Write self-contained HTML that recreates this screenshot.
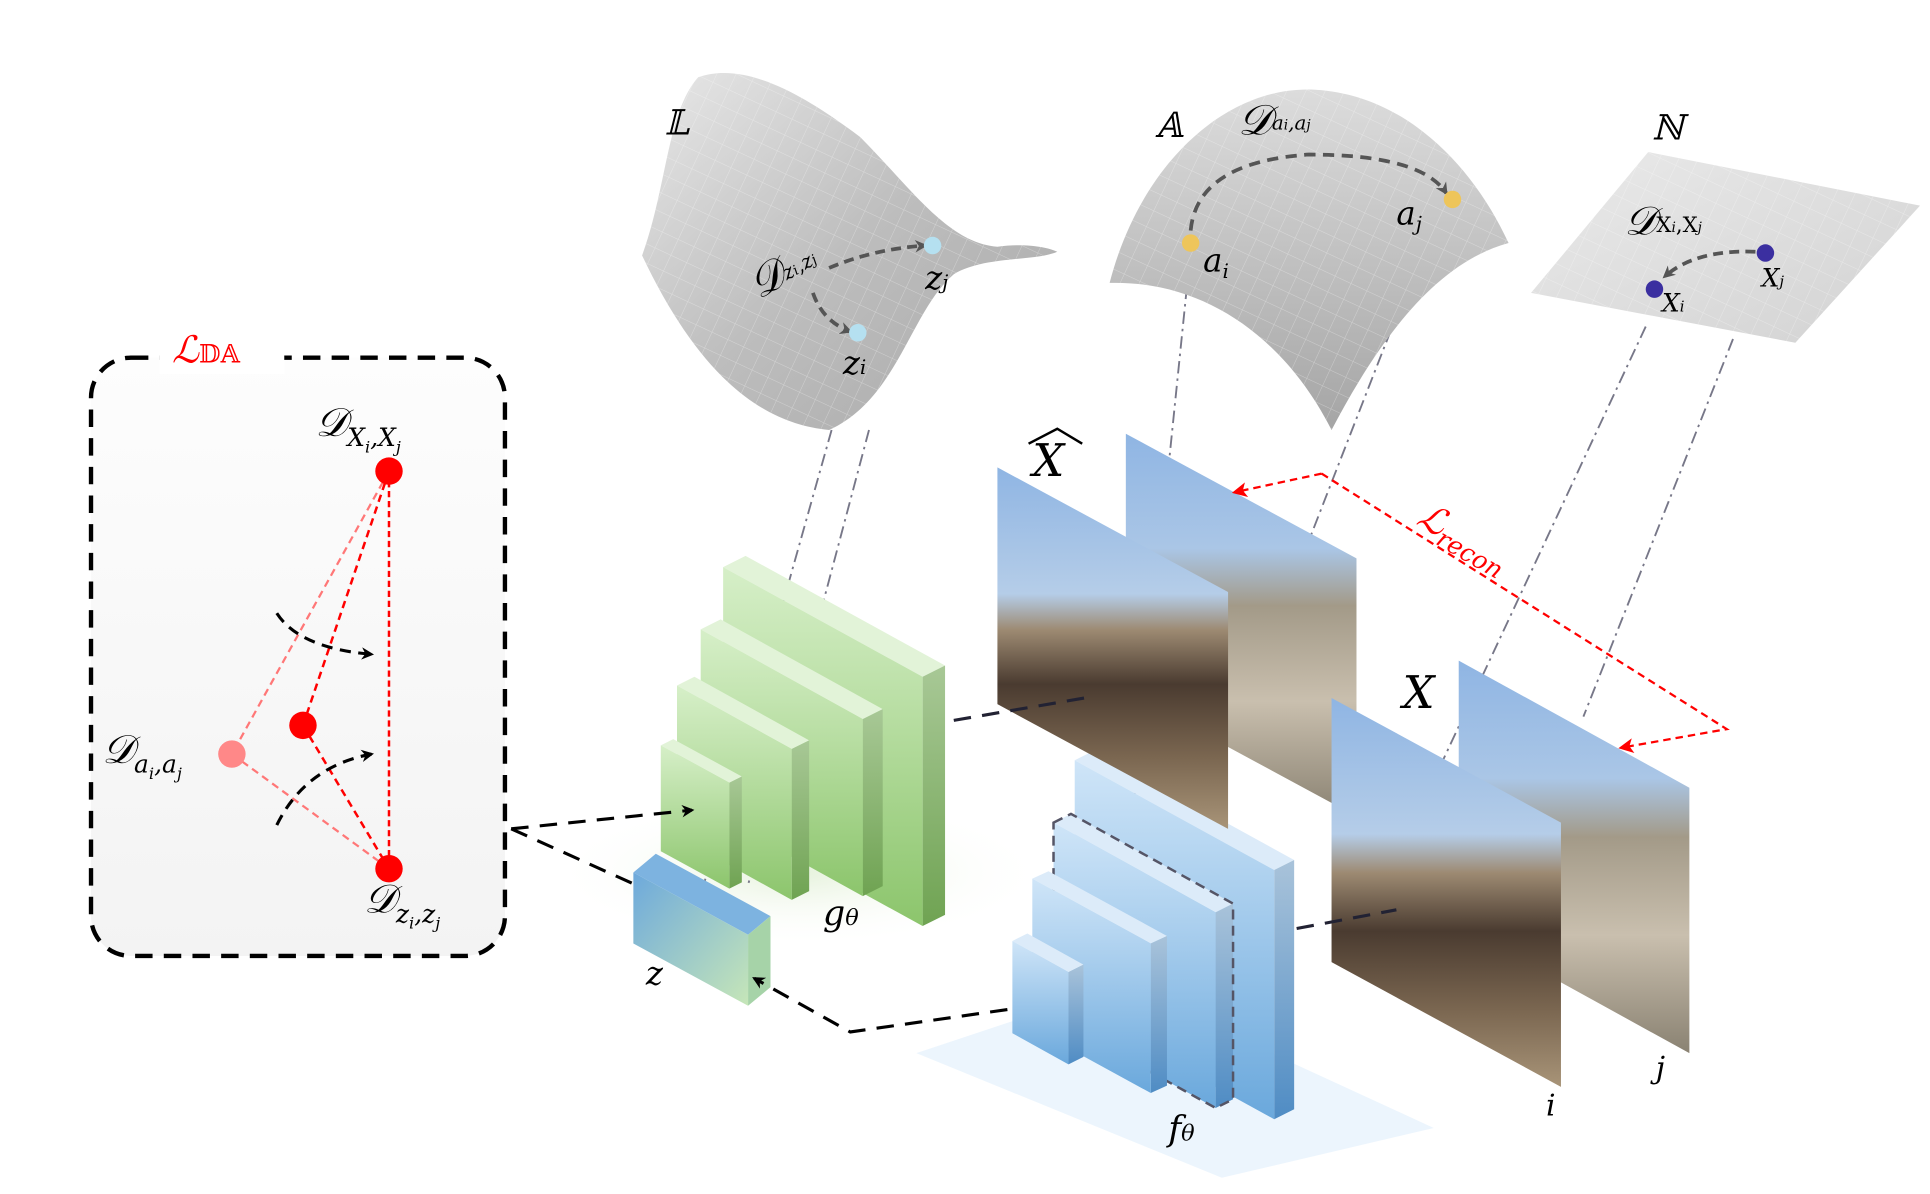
<!DOCTYPE html>
<html><head><meta charset="utf-8">
<style>
html,body{margin:0;padding:0;background:#fff;width:1930px;height:1194px;overflow:hidden}
svg{display:block}
text{font-family:"DejaVu Serif","Liberation Serif",serif;font-style:italic}
</style></head>
<body>
<svg width="1930" height="1194" viewBox="0 0 1548 958" preserveAspectRatio="none">
<defs>
<linearGradient id="box" x1="0" y1="0" x2="0" y2="1"><stop offset="0" stop-color="#fdfdfd"/><stop offset="1" stop-color="#f3f3f3"/></linearGradient>
<linearGradient id="surf" x1="0" y1="0" x2="1" y2="1"><stop offset="0" stop-color="#e8e8e8"/><stop offset="0.5" stop-color="#bdbdbd"/><stop offset="1" stop-color="#a9a9a9"/></linearGradient>
<linearGradient id="dome" x1="0" y1="0" x2="0" y2="1"><stop offset="0" stop-color="#dcdcdc"/><stop offset="1" stop-color="#a5a5a5"/></linearGradient>
<linearGradient id="plane" x1="0" y1="0" x2="1" y2="1"><stop offset="0" stop-color="#eaeaea"/><stop offset="1" stop-color="#d2d2d2"/></linearGradient>
<linearGradient id="gf" x1="0" y1="0" x2="0" y2="1"><stop offset="0" stop-color="#d6efc8"/><stop offset="1" stop-color="#8cc56c"/></linearGradient>
<linearGradient id="gs" x1="0" y1="0" x2="0" y2="1"><stop offset="0" stop-color="#a8c896"/><stop offset="1" stop-color="#6fa352"/></linearGradient>
<linearGradient id="bf" x1="0" y1="0" x2="0" y2="1"><stop offset="0" stop-color="#cfe5f8"/><stop offset="1" stop-color="#6aa8dc"/></linearGradient>
<linearGradient id="bs" x1="0" y1="0" x2="0" y2="1"><stop offset="0" stop-color="#a9c3da"/><stop offset="1" stop-color="#4f8cc4"/></linearGradient>
<linearGradient id="zf" x1="0" y1="0" x2="1" y2="1"><stop offset="0" stop-color="#6da9dc"/><stop offset="1" stop-color="#c6e6b8"/></linearGradient>
<linearGradient id="img" x1="0" y1="0" x2="0" y2="1"><stop offset="0" stop-color="#8fb5e3"/><stop offset="0.35" stop-color="#b5cde8"/><stop offset="0.45" stop-color="#9d8a72"/><stop offset="0.6" stop-color="#4a3b30"/><stop offset="0.8" stop-color="#7a6650"/><stop offset="1" stop-color="#a89478"/></linearGradient>
<linearGradient id="img2" x1="0" y1="0" x2="0" y2="1"><stop offset="0" stop-color="#8fb5e3"/><stop offset="0.3" stop-color="#aac6e6"/><stop offset="0.45" stop-color="#a39a88"/><stop offset="0.7" stop-color="#c9bfae"/><stop offset="1" stop-color="#8a8272"/></linearGradient>
<radialGradient id="shadowg"><stop offset="0" stop-color="#e6f2dc"/><stop offset="1" stop-color="#fff" stop-opacity="0"/></radialGradient>
<radialGradient id="shadowb"><stop offset="0" stop-color="#e2effb"/><stop offset="1" stop-color="#fff" stop-opacity="0"/></radialGradient>
<pattern id="grid" width="14" height="14" patternUnits="userSpaceOnUse" patternTransform="rotate(25)"><path d="M0 0H14M0 0V14" stroke="#fff" stroke-opacity="0.35" stroke-width="0.8" fill="none"/></pattern>
<marker id="ah" markerWidth="10" markerHeight="10" refX="8" refY="5" orient="auto" markerUnits="userSpaceOnUse"><path d="M0 0L10 5L0 10L3 5Z" fill="#000"/></marker>
<marker id="ahg" markerWidth="10" markerHeight="10" refX="8" refY="5" orient="auto" markerUnits="userSpaceOnUse"><path d="M0 0L10 5L0 10L3 5Z" fill="#555"/></marker>
<marker id="ahr" markerWidth="12" markerHeight="12" refX="10" refY="6" orient="auto" markerUnits="userSpaceOnUse"><path d="M0 0L12 6L0 12L3 6Z" fill="#f00"/></marker>
</defs>

<!-- Left box -->
<g>
<rect x="73" y="287" width="332" height="480" rx="32" fill="url(#box)" stroke="#000" stroke-width="3.5" stroke-dasharray="14 9"/>
<rect x="128" y="270" width="100" height="30" fill="#fff"/>
<text x="138" y="291" font-size="30" fill="#f00">ℒ<tspan font-size="20" font-style="normal">𝔻𝔸</tspan></text>
<line x1="312" y1="378" x2="186" y2="605" stroke="#f77" stroke-width="1.8" stroke-dasharray="6 4"/>
<line x1="186" y1="605" x2="312" y2="697" stroke="#f77" stroke-width="1.8" stroke-dasharray="6 4"/>
<line x1="312" y1="378" x2="243" y2="582" stroke="#f00" stroke-width="2" stroke-dasharray="6 4"/>
<line x1="243" y1="582" x2="312" y2="697" stroke="#f00" stroke-width="2" stroke-dasharray="6 4"/>
<line x1="312" y1="378" x2="312" y2="697" stroke="#f00" stroke-width="2" stroke-dasharray="5 3"/>
<path d="M222 492 Q240 520 298 525" fill="none" stroke="#000" stroke-width="2.5" stroke-dasharray="9 6" marker-end="url(#ah)"/>
<path d="M222 662 Q245 615 298 605" fill="none" stroke="#000" stroke-width="2.5" stroke-dasharray="9 6" marker-end="url(#ah)"/>
<circle cx="312" cy="378" r="11" fill="#f00"/>
<circle cx="243" cy="582" r="11" fill="#f00"/>
<circle cx="312" cy="697" r="11" fill="#f00"/>
<circle cx="186" cy="605" r="11" fill="#f88"/>
<text x="253" y="350" font-size="32">𝒟<tspan font-size="20" dy="8">X</tspan><tspan font-size="13" dy="5">i</tspan><tspan font-size="20" dy="-5">,X</tspan><tspan font-size="13" dy="5">j</tspan></text>
<text x="82" y="612" font-size="32">𝒟<tspan font-size="20" dy="8">a</tspan><tspan font-size="13" dy="5">i</tspan><tspan font-size="20" dy="-5">,a</tspan><tspan font-size="13" dy="5">j</tspan></text>
<text x="292" y="732" font-size="32">𝒟<tspan font-size="20" dy="8">z</tspan><tspan font-size="13" dy="5">i</tspan><tspan font-size="20" dy="-5">,z</tspan><tspan font-size="13" dy="5">j</tspan></text>
</g>

<!-- shadows -->
<ellipse cx="640" cy="700" rx="200" ry="60" fill="url(#shadowg)"/>
<polygon points="735,845 900,790 1150,905 980,945" fill="#e7f2fc" opacity="0.8"/>

<!-- projection lines -->
<g stroke="#778" stroke-width="1.5" stroke-dasharray="10 4 2 4" fill="none">
<line x1="667" y1="345" x2="563" y2="715"/>
<line x1="697" y1="345" x2="600" y2="710"/>
<line x1="952" y1="230" x2="905" y2="690"/>
<line x1="1130" y1="228" x2="985" y2="600"/>
<line x1="1320" y1="262" x2="1155" y2="615"/>
<line x1="1390" y1="272" x2="1270" y2="575"/>
</g>

<!-- Surfaces -->
<g>
<path d="M515,205 C535,150 535,90 560,62 C600,48 650,80 690,110 C730,150 760,195 800,198 C820,195 840,198 848,202 C830,210 790,205 765,220 C730,250 720,320 665,345 C610,340 560,300 515,205 Z" fill="url(#surf)"/>
<path d="M515,205 C535,150 535,90 560,62 C600,48 650,80 690,110 C730,150 760,195 800,198 C820,195 840,198 848,202 C830,210 790,205 765,220 C730,250 720,320 665,345 C610,340 560,300 515,205 Z" fill="url(#grid)"/>
<text x="533" y="108" font-size="28" font-style="normal">𝕃</text>
<path d="M652 235 Q660 258 682 266" fill="none" stroke="#555" stroke-width="3" stroke-dasharray="8 5" marker-end="url(#ahg)"/>
<path d="M665 215 Q700 200 742 197" fill="none" stroke="#555" stroke-width="3" stroke-dasharray="8 5" marker-end="url(#ahg)"/>
<circle cx="748" cy="197" r="7" fill="#b5e0f0"/><circle cx="688" cy="267" r="7" fill="#b5e0f0"/>
<text x="600" y="232" font-size="34" transform="rotate(-30 620 220)">𝒟<tspan font-size="16" dy="-2">z</tspan><tspan font-size="11">i</tspan><tspan font-size="16">,z</tspan><tspan font-size="11">j</tspan></text>
<text x="742" y="232" font-size="26">z<tspan font-size="16">j</tspan></text>
<text x="676" y="300" font-size="26">z<tspan font-size="16">i</tspan></text>
</g>
<g>
<path d="M890,227 C915,130 985,68 1055,72 C1125,76 1180,130 1210,195 C1155,210 1110,265 1068,345 C1030,270 965,225 890,227 Z" fill="url(#dome)"/>
<path d="M890,227 C915,130 985,68 1055,72 C1125,76 1180,130 1210,195 C1155,210 1110,265 1068,345 C1030,270 965,225 890,227 Z" fill="url(#grid)"/>
<text x="927" y="110" font-size="28" font-style="normal">𝔸</text>
<text x="993" y="108" font-size="34">𝒟<tspan font-size="16" dy="-4">a</tspan><tspan font-size="11">i</tspan><tspan font-size="16">,a</tspan><tspan font-size="11">j</tspan></text>
<path d="M955 185 Q960 130 1050 124 Q1140 124 1160 155" fill="none" stroke="#555" stroke-width="3" stroke-dasharray="9 6" marker-end="url(#ahg)"/>
<circle cx="955" cy="195" r="7" fill="#eec55a"/><circle cx="1165" cy="160" r="7" fill="#eec55a"/>
<text x="965" y="218" font-size="26">a<tspan font-size="16" dy="5">i</tspan></text>
<text x="1120" y="180" font-size="26">a<tspan font-size="16" dy="5">j</tspan></text>
</g>
<g>
<polygon points="1228,235 1322,122 1540,165 1440,275" fill="url(#plane)"/>
<polygon points="1228,235 1322,122 1540,165 1440,275" fill="url(#grid)"/>
<text x="1325" y="112" font-size="28" font-style="normal">ℕ</text>
<text x="1303" y="188" font-size="32">𝒟<tspan font-size="17" dy="-2" font-style="normal">X</tspan><tspan font-size="11">i</tspan><tspan font-size="17" font-style="normal">,X</tspan><tspan font-size="11">j</tspan></text>
<path d="M1408 202 Q1360 200 1335 222" fill="none" stroke="#555" stroke-width="3" stroke-dasharray="8 5" marker-end="url(#ahg)"/>
<circle cx="1327" cy="232" r="7" fill="#3b2fa0"/><circle cx="1416" cy="203" r="7" fill="#3b2fa0"/>
<text x="1333" y="250" font-size="20" font-style="normal">X<tspan font-size="12">i</tspan></text>
<text x="1413" y="230" font-size="20" font-style="normal">X<tspan font-size="12">j</tspan></text>
</g>

<!-- Decoder g blocks -->
<g>
<polygon points="580,455 598,446 758,534 740,543" fill="#e2f3d8"/><polygon points="740,543 758,534 758,734 740,743" fill="url(#gs)"/><polygon points="580,455 740,543 740,743 580,655" fill="url(#gf)"/>
<polygon points="562,505 578,497 708,569 692,577" fill="#e2f3d8"/><polygon points="692,577 708,569 708,711 692,719" fill="url(#gs)"/><polygon points="562,505 692,577 692,719 562,647" fill="url(#gf)"/>
<polygon points="543,550 557,543 649,594 635,601" fill="#e2f3d8"/><polygon points="635,601 649,594 649,715 635,722" fill="url(#gs)"/><polygon points="543,550 635,601 635,722 543,671" fill="url(#gf)"/>
<polygon points="530,598 540,593 595,623 585,628" fill="#e2f3d8"/><polygon points="585,628 595,623 595,708 585,713" fill="url(#gs)"/><polygon points="530,598 585,628 585,713 530,683" fill="url(#gf)"/>
<text x="660" y="742" font-size="28">g<tspan font-size="18">θ</tspan></text>
</g>

<!-- z block -->
<g>
<polygon points="508,700 526,685 618,735 600,750" fill="#7db3e0"/>
<polygon points="600,750 618,735 618,792 600,807" fill="#a6d3a8"/>
<polygon points="508,700 600,750 600,807 508,757" fill="url(#zf)"/>
<text x="518" y="790" font-size="26">z</text>
</g>

<!-- Encoder f blocks -->
<g>
<polygon points="862,610 878,602 1038,690 1022,698" fill="#dcebf9"/><polygon points="1022,698 1038,690 1038,890 1022,898" fill="url(#bs)"/><polygon points="862,610 1022,698 1022,898 862,810" fill="url(#bf)"/>
<polygon points="845,660 859,653 989,725 975,732" fill="#dcebf9"/><polygon points="975,732 989,725 989,882 975,889" fill="url(#bs)"/><polygon points="845,660 975,732 975,889 845,817" fill="url(#bf)"/>
<polygon points="845,660 859,653 989,725 989,882 975,889 845,817" fill="none" stroke="#556" stroke-width="2" stroke-dasharray="8 5"/>
<polygon points="828,705 841,699 936,751 923,757" fill="#dcebf9"/><polygon points="923,757 936,751 936,871 923,877" fill="url(#bs)"/><polygon points="828,705 923,757 923,877 828,825" fill="url(#bf)"/>
<polygon points="812,755 824,749 869,774 857,780" fill="#dcebf9"/><polygon points="857,780 869,774 869,848 857,854" fill="url(#bs)"/><polygon points="812,755 857,780 857,854 812,829" fill="url(#bf)"/>
<text x="937" y="915" font-size="28">f<tspan font-size="18">θ</tspan></text>
</g>

<!-- images -->
<g>
<polygon points="903,348 1088,448 1088,655 903,555" fill="url(#img2)"/>
<polygon points="800,375 985,475 985,665 800,565" fill="url(#img)"/>
<text x="828" y="382" font-size="36" font-style="normal">X</text>
<path d="M825 356 L848 344 L868 356" fill="none" stroke="#000" stroke-width="2"/>
</g>
<g>
<polygon points="1170,530 1355,632 1355,845 1170,743" fill="url(#img2)"/>
<polygon points="1068,560 1252,660 1252,872 1068,772" fill="url(#img)"/>
<text x="1125" y="568" font-size="36" font-style="normal">X</text>
<text x="1240" y="895" font-size="24">i</text>
<text x="1328" y="865" font-size="24">j</text>
</g>

<!-- connections -->
<g fill="none" stroke="#000" stroke-width="2.5" stroke-dasharray="14 9">
<polyline points="410,665 555,650" marker-end="url(#ah)"/>
<polyline points="410,665 510,710"/>
<polyline points="808,810 682,828 605,785" marker-end="url(#ah)"/>
<line x1="765" y1="578" x2="870" y2="560" stroke="#223"/>
<line x1="1040" y1="745" x2="1120" y2="730" stroke="#223"/>
</g>
<g fill="none" stroke="#f00" stroke-width="1.8" stroke-dasharray="6 4">
<polyline points="1060,380 990,395" marker-end="url(#ahr)"/>
<polyline points="1060,380 1385,585 1300,600" marker-end="url(#ahr)"/>
</g>
<text x="1135" y="420" font-size="30" fill="#f00" transform="rotate(30 1135 420)">ℒ<tspan font-size="20" dy="6">recon</tspan></text>
</svg>
</body></html>
